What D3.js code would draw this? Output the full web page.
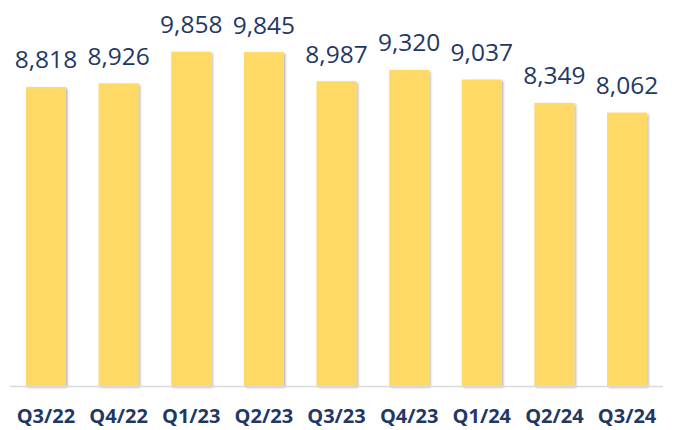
<!DOCTYPE html>
<html>
<head>
<meta charset="utf-8">
<script src="https://cdn.jsdelivr.net/npm/d3@7"></script>
<style>
  body { margin: 0; background: #fff; }
  svg { display: block; font-family: "Open Sans", sans-serif; }
</style>
</head>
<body>
<svg id="chart"></svg>
<script>
const quarters = ["Q3/22", "Q4/22", "Q1/23", "Q2/23", "Q3/23", "Q4/23", "Q1/24", "Q2/24", "Q3/24"];
const values = [8818, 8926, 9858, 9845, 8987, 9320, 9037, 8349, 8062];

const width = 681, height = 430;
const margin = { top: 0, right: 18, bottom: 44, left: 10 };
const innerW = width - margin.left - margin.right;
const innerH = height - margin.top - margin.bottom;

const svg = d3.select("#chart").attr("width", width).attr("height", height);

const defs = svg.append("defs");
const filter = defs.append("filter").attr("id", "shadow")
  .attr("x", "-10%").attr("y", "-10%").attr("width", "130%").attr("height", "130%");
filter.append("feDropShadow")
  .attr("dx", 1.5).attr("dy", 1.5).attr("stdDeviation", 0.8)
  .attr("flood-color", "#000").attr("flood-opacity", 0.3);

const chart = svg.append("g").attr("transform", `translate(${margin.left},${margin.top})`);

const x = d3.scaleBand().domain(quarters).range([0, innerW]).paddingInner(0.45).paddingOuter(0.22);
const y = d3.scaleLinear().domain([0, 11383]).range([innerH, 0]);

// bars
chart.selectAll("rect.bar")
  .data(values)
  .join("rect")
    .attr("class", "bar")
    .attr("x", (d, i) => x(quarters[i]))
    .attr("y", d => y(d))
    .attr("width", x.bandwidth())
    .attr("height", d => innerH - y(d))
    .attr("fill", "#FFD966")
    .attr("filter", "url(#shadow)");

// baseline
chart.append("line")
  .attr("x1", 0).attr("x2", innerW)
  .attr("y1", innerH + 0.5).attr("y2", innerH + 0.5)
  .attr("stroke", "#D9D9D9").attr("stroke-width", 1.5);

// value labels
chart.selectAll("text.val")
  .data(values)
  .join("text")
    .attr("class", "val")
    .attr("x", (d, i) => x(quarters[i]) + x.bandwidth() / 2)
    .attr("y", d => y(d) - 18.5)
    .attr("text-anchor", "middle")
    .attr("fill", "#1F3864")
    .attr("font-size", 24.5)
    .text(d => d3.format(",")(d));

// x axis labels
const xAxis = d3.axisBottom(x).tickSize(0).tickPadding(23);
chart.append("g")
  .attr("transform", `translate(0,${innerH})`)
  .call(xAxis)
  .call(g => g.select(".domain").remove())
  .call(g => g.selectAll("text")
    .attr("fill", "#1F3864")
    .attr("font-size", 20)
    .attr("font-weight", "bold")
    .attr("font-family", "Open Sans, sans-serif"));
</script>
</body>
</html>
